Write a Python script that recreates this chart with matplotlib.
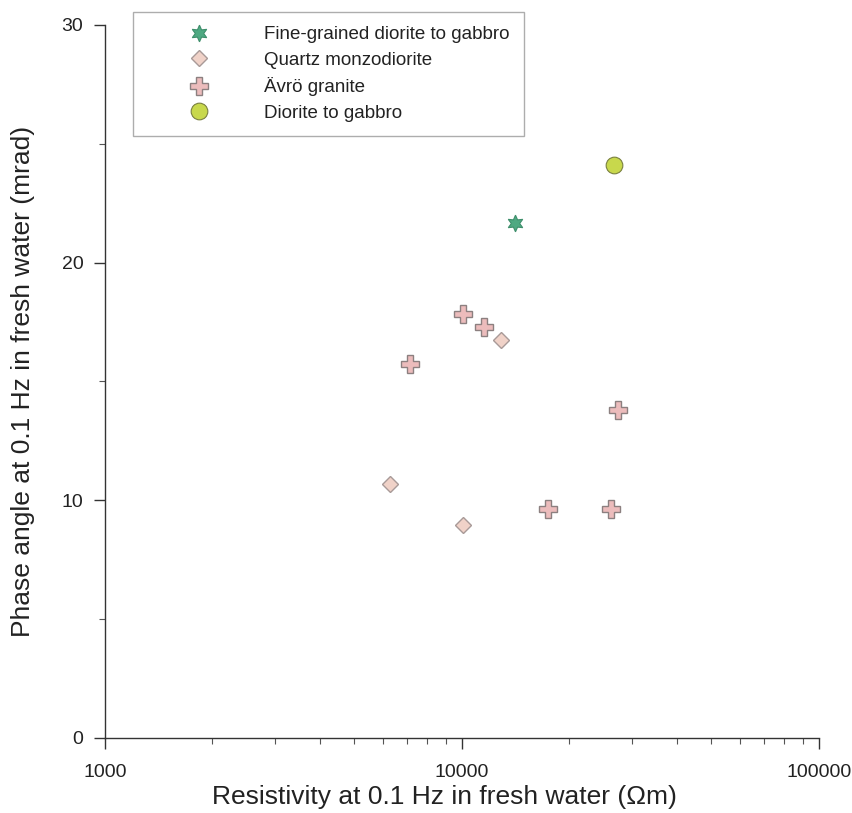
import numpy as np
import matplotlib.pyplot as plt
from matplotlib.ticker import FixedLocator, LogLocator, NullFormatter

plt.rcParams['font.family'] = ['Liberation Sans', 'DejaVu Sans']

# data
fine_res = [14100]
fine_phase = [21.65]
qmd_res = [6300, 10050, 12900]
qmd_phase = [10.7, 8.95, 16.75]
avro_res = [7150, 10050, 11550, 27300, 17400, 26200]
avro_phase = [15.75, 17.85, 17.3, 13.8, 9.65, 9.65]
dg_res = [26600]
dg_phase = [24.1]

fig = plt.figure(figsize=[8.52, 8.13], dpi=100)
ax = fig.add_axes([0.1232, 0.0923, 0.838, 0.877])

ax.plot(fine_res, fine_phase, linestyle='none', marker=(6, 1, 0), markersize=12,
        markerfacecolor='#4fa982', markeredgecolor='#3f8f6c', markeredgewidth=0.8,
        label='Fine-grained diorite to gabbro')
ax.plot(qmd_res, qmd_phase, linestyle='none', marker='D', markersize=8.5,
        markerfacecolor='#f0d2c8', markeredgecolor='#a89a98', markeredgewidth=1.0,
        label='Quartz monzodiorite')
ax.plot(avro_res, avro_phase, linestyle='none', marker='P', markersize=13,
        markerfacecolor='#ecbcbc', markeredgecolor='#8c8080', markeredgewidth=1.0,
        label='Ävrö granite')
ax.plot(dg_res, dg_phase, linestyle='none', marker='o', markersize=12,
        markerfacecolor='#c8d84c', markeredgecolor='#7a8040', markeredgewidth=0.8,
        label='Diorite to gabbro')

ax.set_xscale('log')
ax.set_xlim(1000, 100000)
ax.set_ylim(0, 30)
ax.set_xticks([1000, 10000, 100000])
ax.set_xticklabels(['1000', '10000', '100000'])
ax.xaxis.set_minor_locator(LogLocator(base=10, subs=np.arange(2, 10)))
ax.xaxis.set_minor_formatter(NullFormatter())
ax.set_yticks([0, 10, 20, 30])
ax.yaxis.set_minor_locator(FixedLocator([5, 15, 25]))

for s in ['top', 'right']:
    ax.spines[s].set_visible(False)
for s in ['left', 'bottom']:
    ax.spines[s].set_color('#333333')
    ax.spines[s].set_linewidth(1.0)

ax.tick_params(axis='both', which='major', direction='out', length=8, width=1,
               color='#333333', labelsize=14, labelcolor='#222222', pad=7.5)
ax.tick_params(axis='both', which='minor', direction='out', length=4, width=0.8,
               color='#555555')
ax.tick_params(axis='x', which='major', pad=11)

ax.set_xlabel('Resistivity at 0.1 Hz in fresh water (\u03a9m)', fontsize=19, color='#222222')
ax.xaxis.set_label_coords(0.476, -0.066)
ax.set_ylabel('Phase angle at 0.1 Hz in fresh water (mrad)', fontsize=19, color='#222222')
ax.yaxis.set_label_coords(-0.098, 0.5)

leg = ax.legend(loc='upper left', bbox_to_anchor=(0.0392, 1.018), borderaxespad=0,
                fontsize=13.5, frameon=True, fancybox=False, edgecolor='#999999',
                borderpad=0.75, handletextpad=0.75, handlelength=5.5, labelspacing=0.45)
leg.get_frame().set_linewidth(1.0)
for t in leg.get_texts():
    t.set_color('#222222')

fig.savefig('out.png', dpi=100)
